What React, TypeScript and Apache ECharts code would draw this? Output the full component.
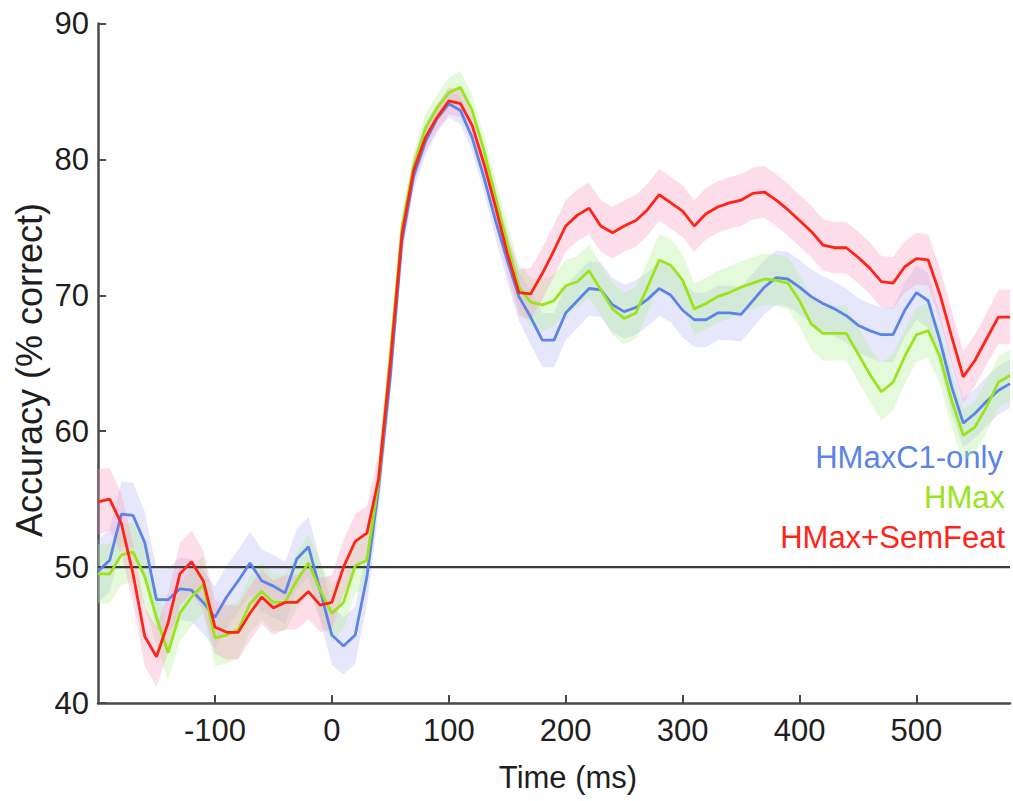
import React, { useEffect, useRef } from "react";
import * as echarts from "echarts";

// Time axis (ms)
const timeMs = [
  -200, -190, -180, -170, -160, -150, -140, -130, -120, -110,
  -100, -90, -80, -70, -60, -50, -40, -30, -20, -10,
  0, 10, 20, 30, 40, 50, 60, 70, 80, 90,
  100, 110, 120, 130, 140, 150, 160, 170, 180, 190,
  200, 210, 220, 230, 240, 250, 260, 270, 280, 290,
  300, 310, 320, 330, 340, 350, 360, 370, 380, 390,
  400, 410, 420, 430, 440, 450, 460, 470, 480, 490,
  500, 510, 520, 530, 540, 550, 560, 570, 580,
];

// Mean accuracy (% correct)
const hmaxC1Only = [
  49.7, 50.5, 53.9, 53.8, 51.8, 47.6, 47.6, 48.4, 48.3, 47.4,
  46.3, 47.8, 49.0, 50.3, 49.0, 48.6, 48.1, 50.6, 51.5, 48.3,
  45.0, 44.2, 45.0, 49.3, 55.9, 64.0, 74.0, 78.8, 81.3, 83.0,
  84.1, 83.6, 81.6, 78.7, 75.5, 72.6, 69.9, 68.4, 66.7, 66.7,
  68.7, 69.6, 70.5, 70.4, 69.3, 68.8, 69.1, 69.7, 70.5, 70.0,
  68.9, 68.2, 68.2, 68.7, 68.7, 68.6, 69.6, 70.6, 71.3, 71.2,
  70.6, 69.9, 69.4, 69.0, 68.5, 67.8, 67.4, 67.1, 67.1, 68.9,
  70.2, 69.6, 66.7, 63.3, 60.6, 61.3, 62.2, 63.0, 63.5,
];

const hmax = [
  49.5, 49.5, 50.9, 51.1, 49.3, 46.3, 43.7, 46.6, 47.8, 48.7,
  44.8, 45.0, 45.4, 47.3, 48.2, 47.4, 47.4, 49.0, 50.3, 48.3,
  46.6, 47.4, 50.1, 50.5, 56.4, 65.5, 75.0, 79.5, 82.3, 83.8,
  84.9, 85.3, 83.6, 80.7, 77.2, 73.8, 70.6, 69.5, 69.3, 69.6,
  70.7, 71.0, 71.8, 70.4, 69.0, 68.3, 68.7, 70.6, 72.6, 72.2,
  71.1, 69.0, 69.4, 69.9, 70.2, 70.6, 70.9, 71.2, 71.1, 70.9,
  69.6, 67.9, 67.2, 67.2, 67.2, 65.7, 64.2, 62.9, 63.6, 65.5,
  67.1, 67.4, 65.5, 62.3, 59.7, 60.3, 61.8, 63.6, 64.1,
];

const hmaxSemFeat = [
  54.8, 55.0, 53.2, 49.5, 44.9, 43.4, 45.9, 49.5, 50.4, 49.0,
  45.6, 45.2, 45.2, 46.6, 47.8, 47.0, 47.4, 47.4, 48.2, 47.2,
  47.4, 50.0, 51.9, 52.5, 56.5, 65.0, 74.5, 79.2, 81.6, 83.1,
  84.3, 84.1, 82.5, 79.7, 76.5, 73.1, 70.2, 70.1, 71.6, 73.3,
  75.1, 75.9, 76.4, 75.1, 74.6, 75.1, 75.5, 76.3, 77.4, 76.8,
  76.2, 75.1, 76.0, 76.5, 76.8, 77.0, 77.5, 77.6, 77.0, 76.3,
  75.5, 74.7, 73.7, 73.5, 73.5, 72.8, 72.0, 71.0, 70.9, 72.1,
  72.7, 72.6, 70.1, 67.0, 64.0, 65.2, 66.8, 68.4, 68.4,
];

// Half-width of the shaded error bands
const bandC1Only = [
  2.3, 2.3, 2.4, 2.4, 2.3, 2.3, 2.3, 2.3, 2.3, 2.3,
  2.3, 2.3, 2.3, 2.3, 2.3, 2.3, 2.3, 2.2, 2.2, 2.2,
  2.2, 2.1, 2.1, 2.1, 1.8, 1.5, 1.2, 1.0, 1.0, 1.0,
  1.0, 1.0, 1.0, 1.1, 1.3, 1.6, 1.8, 2.0, 2.0, 2.0,
  2.0, 2.0, 2.0, 2.0, 2.0, 2.0, 2.0, 2.0, 2.0, 2.0,
  2.0, 2.0, 2.0, 2.0, 2.0, 2.0, 2.0, 2.0, 2.0, 2.0,
  2.0, 2.0, 2.0, 2.0, 2.0, 2.0, 2.0, 2.0, 2.0, 2.0,
  2.0, 2.0, 2.0, 2.0, 1.8, 1.8, 1.8, 1.8, 1.8,
];

const bandHmax = [
  2.2, 2.2, 2.2, 2.2, 2.2, 2.1, 2.0, 2.1, 2.1, 2.1,
  2.1, 2.1, 2.1, 2.1, 2.1, 2.1, 2.1, 2.1, 2.1, 2.1,
  2.1, 2.0, 2.0, 2.0, 1.8, 1.5, 1.2, 1.0, 1.0, 1.0,
  1.1, 1.2, 1.1, 1.1, 1.3, 1.5, 1.7, 1.8, 1.9, 1.9,
  1.9, 1.9, 1.9, 1.9, 1.9, 1.9, 1.9, 1.9, 1.9, 1.9,
  1.9, 1.9, 1.9, 1.9, 1.9, 1.9, 1.9, 1.9, 1.9, 1.9,
  1.9, 1.9, 2.0, 2.0, 2.0, 2.0, 2.0, 2.1, 2.1, 2.0,
  2.0, 2.0, 2.0, 2.0, 1.9, 1.9, 1.9, 1.9, 1.9,
];

const bandSemFeat = [
  2.4, 2.3, 2.2, 2.2, 2.2, 2.2, 2.2, 2.3, 2.3, 2.2,
  2.0, 2.0, 2.0, 2.0, 2.0, 2.0, 2.0, 2.0, 2.0, 2.0,
  2.0, 2.0, 2.0, 2.0, 1.8, 1.5, 1.2, 1.0, 1.0, 1.0,
  1.0, 1.0, 1.0, 1.1, 1.3, 1.5, 1.7, 1.9, 1.9, 1.9,
  1.9, 1.9, 1.9, 1.9, 1.9, 1.9, 1.9, 1.9, 1.9, 1.9,
  1.9, 1.9, 1.9, 1.9, 1.9, 1.9, 1.9, 1.9, 1.9, 1.9,
  1.9, 1.9, 1.9, 1.9, 1.9, 1.9, 1.9, 1.9, 1.9, 1.9,
  1.9, 1.9, 1.9, 1.9, 1.9, 1.9, 1.9, 2.0, 2.0,
];

const chanceLevel = 50;
const xTickValues = [-100, 0, 100, 200, 300, 400, 500];
const yTickValues = [40, 50, 60, 70, 80, 90];
const legendLabels = ["HMaxC1-only", "HMax", "HMax+SemFeat"];

const FONT = "'Liberation Sans', Arial, Helvetica, sans-serif";
const BLUE = "#5b84e6";
const GREEN = "#9ae41c";
const RED = "#ff2418";

function pairs(vals: number[]) {
  return timeMs.map((t, i) => [t, vals[i]]);
}

function bandSeries(name: string, vals: number[], half: number[], fill: string) {
  return {
    type: "custom",
    name,
    silent: true,
    data: [[timeMs[0], vals[0]]],
    encode: { x: 0, y: 1 },
    renderItem: (params: any, api: any) => {
      const upper = timeMs.map((t, i) => api.coord([t, vals[i] + half[i]]));
      const lower = timeMs
        .map((t, i) => api.coord([t, vals[i] - half[i]]))
        .reverse();
      return {
        type: "polygon",
        shape: { points: upper.concat(lower) },
        style: { fill },
      };
    },
    z: 1,
  };
}

function lineSeries(name: string, vals: number[], color: string) {
  return {
    type: "line",
    name,
    data: pairs(vals),
    showSymbol: false,
    symbol: "none",
    lineStyle: { color, width: 2.8 },
    z: 3,
  };
}

export default function App() {
  const ref = useRef<HTMLDivElement>(null);

  useEffect(() => {
    if (!ref.current) return;
    const chart = echarts.init(ref.current, null, { renderer: "svg" });
    const option: any = {
      animation: false,
      backgroundColor: "#ffffff",
      grid: { left: 98, right: 3, top: 23.5, bottom: 98, containLabel: false },
      xAxis: {
        type: "value",
        min: -200,
        max: 580,
        interval: 100,
        splitLine: { show: false },
        axisLine: { show: true, onZero: false, lineStyle: { color: "#4a4a4a", width: 2.5 } },
        axisTick: {
          show: true,
          inside: true,
          length: 8,
          customValues: xTickValues,
          lineStyle: { color: "#4a4a4a", width: 2 },
        },
        axisLabel: {
          customValues: xTickValues,
          fontSize: 31,
          fontFamily: FONT,
          color: "#1e1e1e",
          margin: 12,
        },
      },
      yAxis: {
        type: "value",
        min: 40,
        max: 90,
        interval: 10,
        splitLine: { show: false },
        axisLine: { show: true, onZero: false, lineStyle: { color: "#4a4a4a", width: 2.5 } },
        axisTick: {
          show: true,
          inside: true,
          length: 8,
          customValues: yTickValues,
          lineStyle: { color: "#4a4a4a", width: 2 },
        },
        axisLabel: {
          customValues: yTickValues,
          fontSize: 31,
          fontFamily: FONT,
          color: "#1e1e1e",
          margin: 9,
        },
      },
      series: [
        bandSeries("bandC1", hmaxC1Only, bandC1Only, "rgba(176,176,245,0.3)"),
        bandSeries("bandHmax", hmax, bandHmax, "rgba(170,240,140,0.32)"),
        bandSeries("bandSem", hmaxSemFeat, bandSemFeat, "rgba(248,150,190,0.32)"),
        {
          type: "line",
          name: "chance",
          data: [
            [timeMs[0], chanceLevel],
            [timeMs[timeMs.length - 1], chanceLevel],
          ],
          showSymbol: false,
          symbol: "none",
          lineStyle: { color: "#3c3c3c", width: 2.2 },
          z: 2,
        },
        lineSeries(legendLabels[0], hmaxC1Only, BLUE),
        lineSeries(legendLabels[1], hmax, GREEN),
        lineSeries(legendLabels[2], hmaxSemFeat, RED),
      ],
      graphic: [
        {
          type: "text",
          x: 29,
          y: 370,
          rotation: Math.PI / 2,
          style: {
            text: "Accuracy (% correct)",
            fontSize: 36,
            fontFamily: FONT,
            fill: "#1e1e1e",
            align: "center",
            verticalAlign: "middle",
          },
        },
        {
          type: "text",
          x: 568,
          y: 777,
          style: {
            text: "Time (ms)",
            fontSize: 31,
            fontFamily: FONT,
            fill: "#1e1e1e",
            align: "center",
            verticalAlign: "middle",
          },
        },
        {
          type: "text",
          x: 1003,
          y: 457,
          style: {
            text: legendLabels[0],
            fontSize: 31,
            fontFamily: FONT,
            fill: BLUE,
            align: "right",
            verticalAlign: "middle",
          },
        },
        {
          type: "text",
          x: 1005,
          y: 497,
          style: {
            text: legendLabels[1],
            fontSize: 31,
            fontFamily: FONT,
            fill: GREEN,
            align: "right",
            verticalAlign: "middle",
          },
        },
        {
          type: "text",
          x: 1005,
          y: 537,
          style: {
            text: legendLabels[2],
            fontSize: 31,
            fontFamily: FONT,
            fill: RED,
            align: "right",
            verticalAlign: "middle",
          },
        },
      ],
    };
    chart.setOption(option);
    return () => chart.dispose();
  }, []);

  return (
    <div
      ref={ref}
      style={{ position: "fixed", left: 0, top: 0, width: 1013, height: 801 }}
    />
  );
}
